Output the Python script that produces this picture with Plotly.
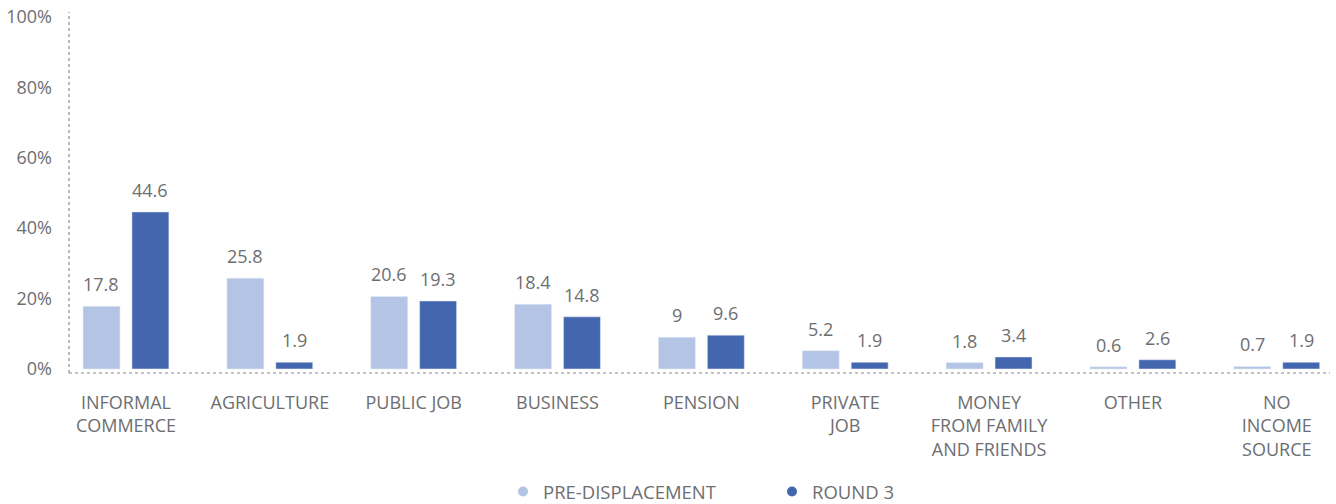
import plotly.graph_objects as go

categories = ["INFORMAL<br>COMMERCE", "AGRICULTURE", "PUBLIC JOB", "BUSINESS", "PENSION",
              "PRIVATE<br>JOB", "MONEY<br>FROM FAMILY<br>AND FRIENDS", "OTHER", "NO<br>INCOME<br>SOURCE"]
pre_displacement = [17.8, 25.8, 20.6, 18.4, 9, 5.2, 1.8, 0.6, 0.7]
round_3 = [44.6, 1.9, 19.3, 14.8, 9.6, 1.9, 3.4, 2.6, 1.9]
y_ticks = [0, 20, 40, 60, 80, 100]

light = "#b4c4e4"
dark = "#4366af"
grey = "#6d6e71"
font = "'Open Sans', sans-serif"

fig = go.Figure()
xs = list(range(len(categories)))
series = [("PRE-DISPLACEMENT", pre_displacement, light, -24.5),
          ("ROUND 3", round_3, dark, 24.5)]
for name, vals, col, shift in series:
    fig.add_bar(x=xs, y=vals, marker_color=col, name=name, showlegend=False)
    # value labels a little above each bar
    for x, v in zip(xs, vals):
        fig.add_annotation(x=x, y=v, text=f"{v:g}", showarrow=False, xshift=shift,
                           yanchor="bottom", yshift=8,
                           font=dict(size=18, color=grey, family=font))
# legend entries with round markers
for name, col in [("PRE-DISPLACEMENT", light), ("ROUND 3", dark)]:
    fig.add_scatter(x=[None], y=[None], mode="markers", name=name,
                    marker=dict(color=col, size=10, symbol="circle"))

fig.update_layout(
    width=1336, height=504,
    margin=dict(l=69, r=6, t=12, b=131),
    plot_bgcolor="white", paper_bgcolor="white",
    barmode="group", bargap=0.32, bargroupgap=0.245,
    font=dict(family=font, color=grey, size=17),
    legend=dict(orientation="h", xref="container", yref="container",
                x=503 / 1336, xanchor="left", y=12 / 504, yanchor="middle",
                font=dict(size=18.5, color=grey), itemwidth=30, entrywidth=224),
    xaxis=dict(range=[-0.396, 8.37], tickvals=xs,
               ticktext=categories, showgrid=False, zeroline=False, showline=False,
               tickfont=dict(size=18, color=grey), ticks="", ticklabelstandoff=17,
               automargin=False),
    yaxis=dict(range=[-1.15, 101.4], tickvals=y_ticks, ticktext=[f"{t}%" for t in y_ticks],
               showgrid=False, zeroline=False, showline=False,
               tickfont=dict(size=18, color=grey), ticks="", ticklabelstandoff=16,
               automargin=False, ticklabeloverflow="allow"),
)
fig.add_shape(type="line", xref="paper", yref="paper", x0=0, x1=0, y0=0, y1=1,
              line=dict(color="#8a8a8a", width=1.2, dash="dot"))
fig.add_shape(type="line", xref="paper", yref="paper", x0=0, x1=1, y0=0, y1=0,
              line=dict(color="#8a8a8a", width=1.2, dash="dot"))

# drop the default page margin so the figure fills the window
fig.write_html("out.html", config={"displayModeBar": False},
               post_script="document.body.style.margin = '0';")
